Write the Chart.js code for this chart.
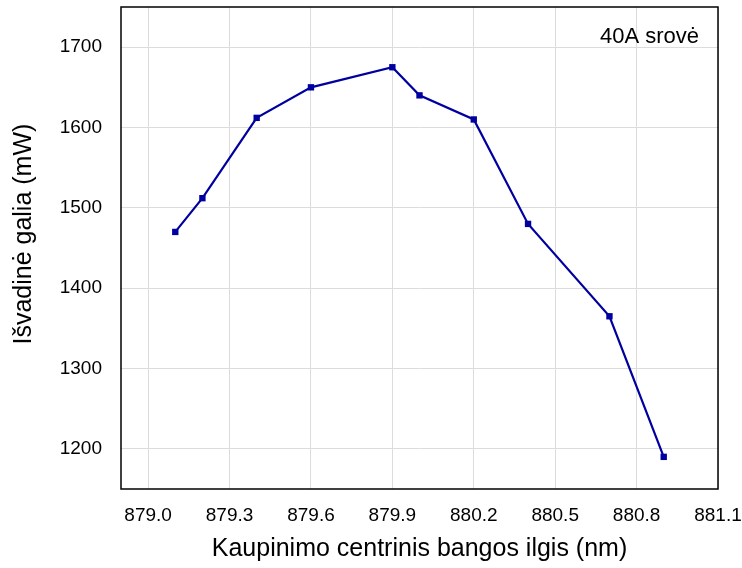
<!DOCTYPE html>
<html>
<head>
<meta charset="utf-8">
<script src="https://cdn.jsdelivr.net/npm/chart.js@4"></script>
<style>
  html, body { margin: 0; padding: 0; background: #fff; }
  #wrap { width: 742px; height: 568px; }
</style>
</head>
<body>
<div id="wrap"><canvas id="chart"></canvas></div>
<script>
const wavelengths = [879.1, 879.2, 879.4, 879.6, 879.9, 880.0, 880.2, 880.4, 880.7, 880.9];
const power = [1470, 1512, 1612, 1650, 1675, 1640, 1610, 1480, 1365, 1190];
const xTicks = [879.0, 879.3, 879.6, 879.9, 880.2, 880.5, 880.8, 881.1];
const yTicks = [1200, 1300, 1400, 1500, 1600, 1700];
const noteText = "40A srovė";

const fontFamily = "'Liberation Sans', Arial, sans-serif";
const lineColor = "#0000a0";

// black frame round the plot and the small note in the corner
const framePlugin = {
  id: "frame",
  afterDraw(chart) {
    const { ctx, chartArea } = chart;
    ctx.save();
    ctx.strokeStyle = "#000";
    ctx.lineWidth = 1.5;
    ctx.strokeRect(chartArea.left, chartArea.top, chartArea.right - chartArea.left, chartArea.bottom - chartArea.top);
    ctx.fillStyle = "#000";
    ctx.font = "22px " + fontFamily;
    ctx.textAlign = "right";
    ctx.textBaseline = "middle";
    ctx.fillText(noteText, chartArea.right - 19, chartArea.top + 30);
    ctx.restore();
  }
};

new Chart(document.getElementById("chart"), {
  type: "line",
  data: {
    datasets: [{
      data: wavelengths.map((x, i) => ({ x: x, y: power[i] })),
      borderColor: lineColor,
      backgroundColor: lineColor,
      borderWidth: 2.2,
      pointStyle: "rect",
      pointRadius: 4.5,
      pointBorderWidth: 0,
      tension: 0
    }]
  },
  options: {
    responsive: true,
    maintainAspectRatio: false,
    animation: false,
    layout: { autoPadding: false, padding: { top: 7, right: 24, bottom: 0, left: 0 } },
    plugins: {
      legend: { display: false },
      tooltip: { enabled: false }
    },
    scales: {
      x: {
        type: "linear",
        min: 878.9,
        max: 881.1,
        afterBuildTicks: (scale) => { scale.ticks = xTicks.map(v => ({ value: v })); },
        afterFit: (scale) => { scale.height = 79; scale.paddingLeft = 0; scale.paddingRight = 0; },
        grid: { color: "#dcdcdc", lineWidth: 1, drawTicks: false },
        border: { display: false },
        ticks: {
          padding: 15,
          color: "#000",
          font: { family: fontFamily, size: 19 },
          maxRotation: 0,
          callback: (v) => Number(v).toFixed(1)
        },
        title: {
          display: true,
          text: "Kaupinimo centrinis bangos ilgis (nm)",
          color: "#000",
          font: { family: fontFamily, size: 25 },
          padding: { top: 0, bottom: 4 }
        }
      },
      y: {
        min: 1150,
        max: 1750,
        afterBuildTicks: (scale) => { scale.ticks = yTicks.map(v => ({ value: v })); },
        afterFit: (scale) => { scale.width = 121; scale.paddingTop = 0; scale.paddingBottom = 0; },
        grid: { color: "#dcdcdc", lineWidth: 1, drawTicks: false },
        border: { display: false },
        ticks: {
          padding: 19,
          color: "#000",
          font: { family: fontFamily, size: 19 },
          callback: (v) => String(v)
        },
        title: {
          display: true,
          // leading spaces nudge the title a bit above the axis centre, as in the original
          text: "\u00a0\u00a0\u00a0\u00a0Išvadinė galia (mW)",
          color: "#000",
          font: { family: fontFamily, size: 25 },
          padding: { top: 9, bottom: 0 }
        }
      }
    }
  },
  plugins: [framePlugin]
});
</script>
</body>
</html>
